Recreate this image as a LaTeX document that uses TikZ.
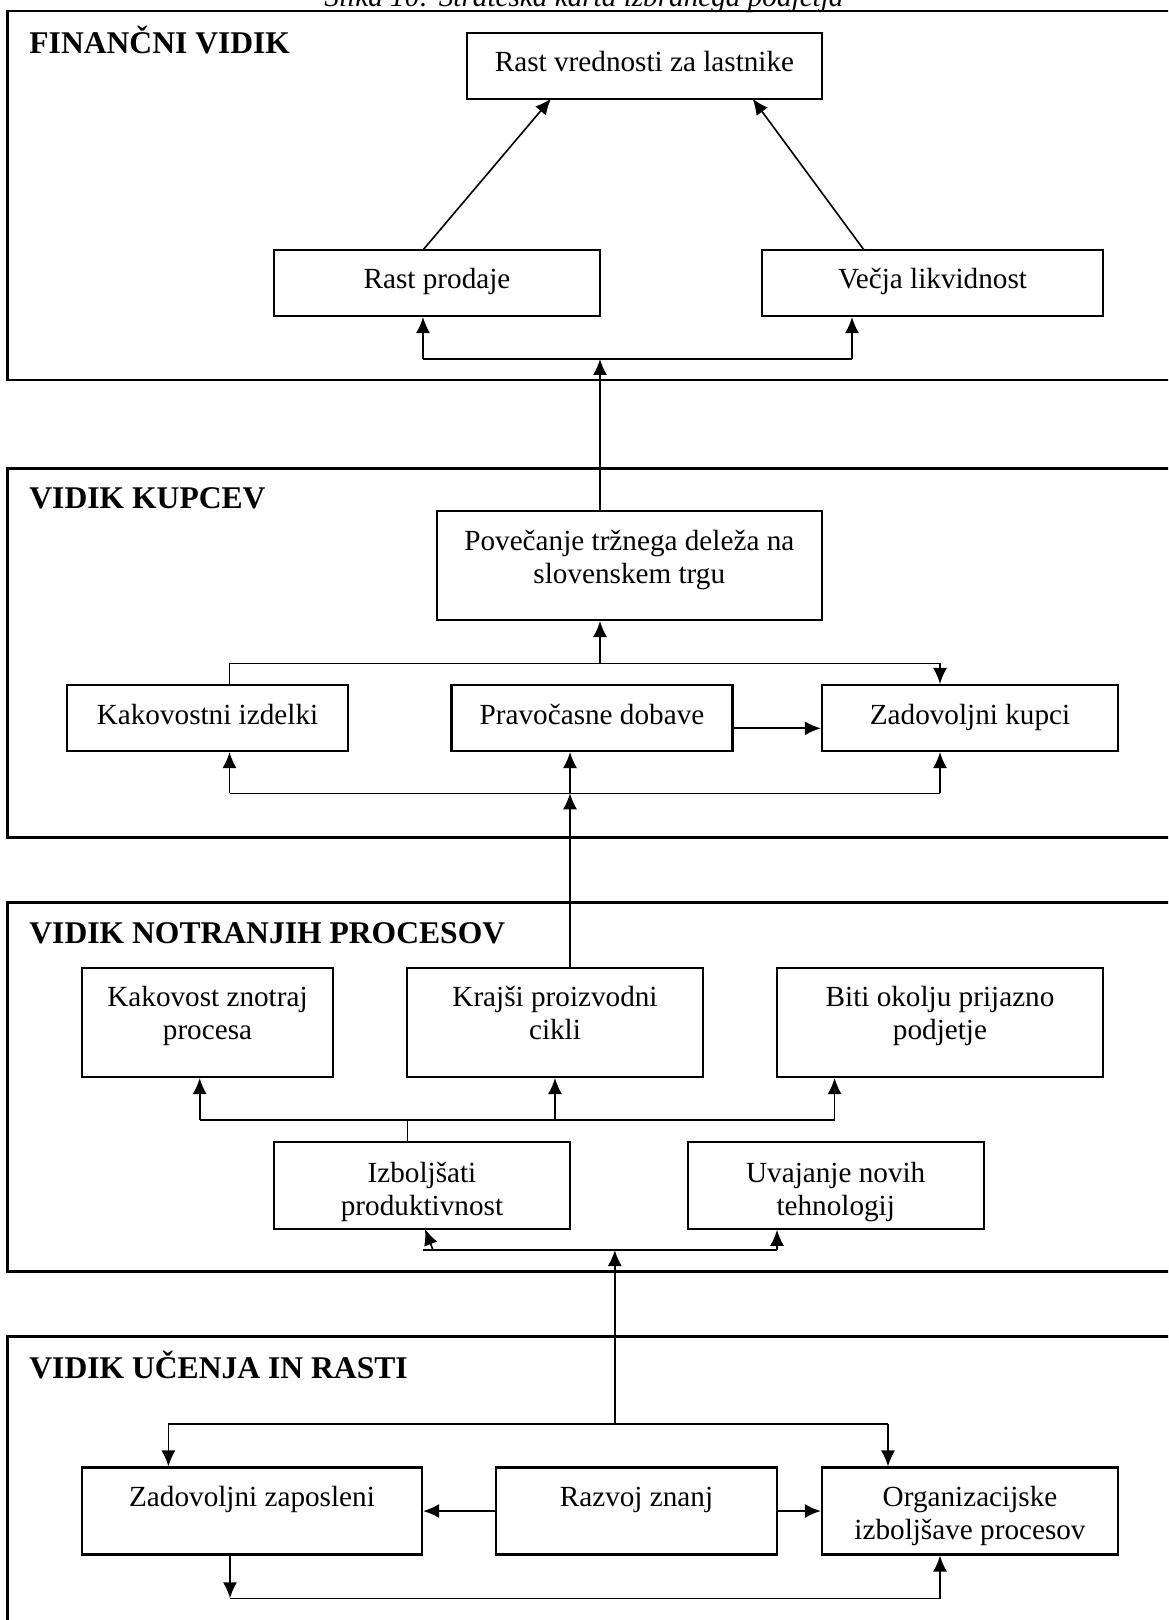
\documentclass[tikz,border=0pt]{standalone}
\usepackage{fontspec}
\setmainfont{Liberation Serif}
\usetikzlibrary{arrows.meta,calc}
\newcommand{\twolines}[2]{\begin{tabular}[t]{@{}c@{}}#1\\#2\end{tabular}}
\begin{document}
\begin{tikzpicture}[x=0.5pt,y=-0.5pt,
  panel/.style={draw, line width=1.25pt},
  box/.style={draw, line width=1.05pt, rectangle, inner sep=0pt},
  sz/.style 2 args={minimum width=#1*0.5pt, minimum height=#2*0.5pt},
  lbl/.style={anchor=base, inner sep=0pt, font=\fontsize{14.6}{16.5}\selectfont},
  ttl/.style={anchor=base west, inner sep=0pt, font=\fontsize{15.8}{18}\selectfont\bfseries},
  conn/.style={line width=0.8pt},
  arr/.style={conn, -{Latex[length=8pt,width=7pt]}},
]
\useasboundingbox (0,0) rectangle (1168,1620);
\clip (0,0) rectangle (1168,1620);

% caption (cut at top, as in the reference)
\node[lbl, font=\fontsize{14.6}{16.5}\selectfont\itshape] (cap) at (584,7) {Slika 10: Strateška karta izbranega podjetja};

% panels
\draw[panel] (7.5,11) rectangle (1200,380);
\draw[panel] (7.5,468.3) rectangle (1200,837.3);
\draw[panel] (7.5,902.7) rectangle (1200,1271.7);
\draw[panel] (7.5,1336.7) rectangle (1200,1700);

% titles
\node[ttl] (t1) at (29,53.3) {FINANČNI VIDIK};
\node[ttl] (t2) at (29,508.3) {VIDIK KUPCEV};
\node[ttl] (t3) at (29,943.3) {VIDIK NOTRANJIH PROCESOV};
\node[ttl] (t4) at (29,1378.3) {VIDIK UČENJA IN RASTI};

% financial
\node[box, sz={355}{66}] (f1) at (644.5,65.7) {};
\node[lbl] (f1t) at (644.5,71.7) {Rast vrednosti za lastnike};
\node[box, sz={326}{66}] (f2) at (437,283) {};
\node[lbl] (f2t) at (437,289) {Rast prodaje};
\node[box, sz={341}{66}] (f3) at (932.5,283) {};
\node[lbl] (f3t) at (932.5,289) {Večja likvidnost};

% customers
\node[box, sz={385}{109}] (k1) at (629.3,565.5) {};
\node[lbl] (k1t) at (629.3,550) {\twolines{Povečanje tržnega deleža na}{slovenskem trgu}};
\node[box, sz={281}{66}] (k2) at (207.5,718) {};
\node[lbl] (k2t) at (207.5,724) {Kakovostni izdelki};
\node[box, sz={281}{66}] (k3) at (592,718) {};
\node[lbl] (k3t) at (592,724) {Pravočasne dobave};
\node[box, sz={296}{66}] (k4) at (970,718) {};
\node[lbl] (k4t) at (970,724) {Zadovoljni kupci};

% internal processes
\node[box, sz={251}{109}] (n1) at (207.5,1022.5) {};
\node[lbl] (n1t) at (207.5,1006) {\twolines{Kakovost znotraj}{procesa}};
\node[box, sz={296}{109}] (n2) at (555,1022.5) {};
\node[lbl] (n2t) at (555,1006) {\twolines{Krajši proizvodni}{cikli}};
\node[box, sz={326}{109}] (n3) at (940,1022.5) {};
\node[lbl] (n3t) at (940,1006) {\twolines{Biti okolju prijazno}{podjetje}};
\node[box, sz={296}{87}] (n4) at (422,1185.3) {};
\node[lbl] (n4t) at (422,1182) {\twolines{Izboljšati}{produktivnost}};
\node[box, sz={296}{87}] (n5) at (835.7,1185.3) {};
\node[lbl] (n5t) at (835.7,1182) {\twolines{Uvajanje novih}{tehnologij}};

% learning and growth
\node[box, sz={340}{87}] (u1) at (252,1511) {};
\node[lbl] (u1t) at (252,1506) {Zadovoljni zaposleni};
\node[box, sz={281}{87}] (u2) at (636.5,1511) {};
\node[lbl] (u2t) at (636.5,1506) {Razvoj znanj};
\node[box, sz={296}{87}] (u3) at (970,1511) {};
\node[lbl] (u3t) at (970,1506) {\twolines{Organizacijske}{izboljšave procesov}};

% ---- connectors: financial
\coordinate (fa) at (423,250);   \coordinate (fb) at (551,98.7);
\coordinate (fc) at (864,250);   \coordinate (fd) at (752.6,98.7);
\draw[arr] (fa) -- (fb);
\draw[arr] (fc) -- (fd);
\coordinate (jf) at (600,359); \coordinate (jfl) at (423,359); \coordinate (jfr) at (852,359);
\draw[conn] (jfl) -- (jfr);
\draw[arr] (jfl) -- (jfl |- f2.south);
\draw[arr] (jfr) -- (jfr |- f3.south);
\draw[arr] (jf |- k1.north) -- (jf);

% ---- connectors: customers
\coordinate (kt) at (600,663.3); \coordinate (ktl) at (229.5,663.3); \coordinate (ktr) at (940,663.3);
\draw[conn] (ktl |- k2.north) -- (ktl) -- (ktr);
\draw[arr] (ktr) -- (ktr |- k4.north);
\draw[arr] (kt) -- (kt |- k1.south);
\coordinate (kp) at (0,728.3);
\draw[arr, line width=1pt] (k3.east |- kp) -- (k4.west |- kp);
\coordinate (kb) at (570,793.3); \coordinate (kbl) at (229.5,793.3); \coordinate (kbr) at (940,793.3);
\draw[conn] (kbl) -- (kbr);
\draw[arr] (kbl) -- (kbl |- k2.south);
\draw[arr] (kb) -- (kb |- k3.south);
\draw[arr] (kbr) -- (kbr |- k4.south);
\draw[arr] (kb |- n2.north) -- (kb);

% ---- connectors: internal processes
\coordinate (nt) at (407.6,1120); \coordinate (ntl) at (199.7,1120);
\coordinate (ntm) at (555,1120); \coordinate (ntr) at (834.6,1120);
\draw[conn] (ntl) -- (ntr);
\draw[arr] (ntl) -- (ntl |- n1.south);
\draw[arr] (ntm) -- (ntm |- n2.south);
\draw[arr] (ntr) -- (ntr |- n3.south);
\draw[conn] (nt |- n4.north) -- (nt);
\coordinate (nb) at (614.8,1250); \coordinate (nbl) at (423,1250); \coordinate (nbr) at (777,1250);
\coordinate (nbs) at (433,1250); \coordinate (nbt) at (425,1229);
\draw[conn] (nbl) -- (nbr);
\draw[arr] (nbs) -- (nbt);
\draw[arr] (nbr) -- (nbr |- n5.south);

% ---- connectors: learning and growth
\coordinate (ut) at (614.8,1424); \coordinate (utl) at (168.4,1424); \coordinate (utr) at (888,1424);
\draw[arr] (ut) -- (nb);
\draw[conn] (utl) -- (utr);
\draw[arr] (utl) -- (utl |- u1.north);
\draw[arr] (utr) -- (utr |- u3.north);
\draw[arr, line width=1pt] (u2.west) -- (u1.east);
\draw[arr, line width=1pt] (u2.east) -- (u3.west);
\coordinate (ubl) at (230,1598.3); \coordinate (ubr) at (940,1598.3);
\draw[arr] (ubl |- u1.south) -- (ubl);
\draw[arr] (ubl) -- (ubr) -- (ubr |- u3.south);
\end{tikzpicture}
\end{document}
